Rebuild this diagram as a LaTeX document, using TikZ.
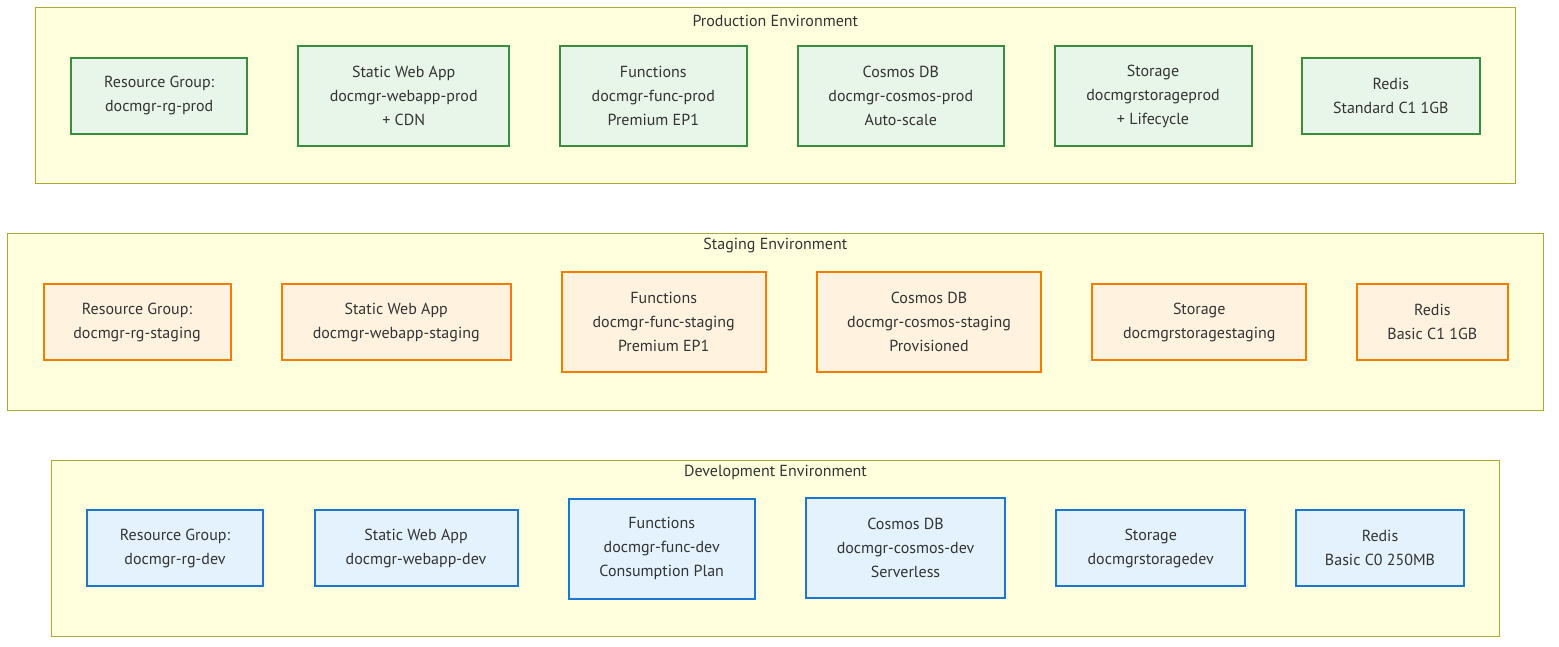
\documentclass[tikz,border=0pt]{standalone}
\usepackage{fontspec}
\setmainfont{PT Sans}
\definecolor{envfill}{HTML}{FFFFDE}
\definecolor{envline}{HTML}{AAAA33}
\definecolor{prodfill}{HTML}{E8F5E9}
\definecolor{prodline}{HTML}{388E3C}
\definecolor{stagefill}{HTML}{FFF3E0}
\definecolor{stageline}{HTML}{F57C00}
\definecolor{devfill}{HTML}{E3F2FD}
\definecolor{devline}{HTML}{1976D2}
\definecolor{labeltext}{HTML}{333333}
\begin{document}
\begin{tikzpicture}[x = 1pt, y = -1pt,
        every node/.style = {text = labeltext, font = \fontsize{16}{24}\selectfont, align = center, inner sep = 0pt},
        envbox/.style = {fill = envfill, draw = envline, line width = 1pt},
        envtitle/.style = {},
        resbox/.style = {rectangle, line width = 2pt, minimum height = #1},
        prodbox/.style = {resbox = #1, fill = prodfill, draw = prodline},
        stagebox/.style = {resbox = #1, fill = stagefill, draw = stageline},
        devbox/.style = {resbox = #1, fill = devfill, draw = devline}]
            \useasboundingbox (0,0) rectangle (1559,647);
            % production
            \draw[envbox] (35.7,7.7) rectangle (1515,183.7);
            \node[envtitle] (prodtitle) at (775.3,21) {Production Environment};
            \begin{scope}[every node/.append style = {prodbox = 100pt}]
                \node[minimum height = 76pt, minimum width = 176pt] (prodrg) at (159.2,96) {Resource Group:\\docmgr-rg-prod};
                \node[minimum width = 211pt] (prodweb) at (403.7,96) {Static Web App\\docmgr-webapp-prod\\+ CDN};
                \node[minimum width = 187pt] (prodfunc) at (653.3,96) {Functions\\docmgr-func-prod\\Premium EP1};
                \node[minimum width = 206pt] (prodcosmos) at (900.8,96) {Cosmos DB\\docmgr-cosmos-prod\\Auto-scale};
                \node[minimum width = 197pt] (prodstore) at (1153,96.5) {Storage\\docmgrstorageprod\\+ Lifecycle};
                \node[minimum height = 76pt, minimum width = 178pt] (prodredis) at (1390.8,96) {Redis\\Standard C1 1GB};
            \end{scope}
            % staging
            \draw[envbox] (7.3,234) rectangle (1543.3,410);
            \node[envtitle] (stagetitle) at (775.3,246) {Staging Environment};
            \begin{scope}[every node/.append style = {stagebox = 100pt}]
                \node[minimum height = 76pt, minimum width = 187pt] (stagerg) at (137,322) {Resource Group:\\docmgr-rg-staging};
                \node[minimum height = 76pt, minimum width = 229pt] (stageweb) at (396.2,322) {Static Web App\\docmgr-webapp-staging};
                \node[minimum width = 204pt] (stagefunc) at (663.7,322) {Functions\\docmgr-func-staging\\Premium EP1};
                \node[minimum width = 224pt] (stagecosmos) at (929,322) {Cosmos DB\\docmgr-cosmos-staging\\Provisioned};
                \node[minimum height = 76pt, minimum width = 214pt] (stagestore) at (1199.2,322) {Storage\\docmgrstoragestaging};
                \node[minimum height = 76pt, minimum width = 151pt] (stageredis) at (1432.3,322) {Redis\\Basic C1 1GB};
            \end{scope}
            % development
            \draw[envbox] (51.7,460) rectangle (1499.3,636);
            \node[envtitle] (devtitle) at (775.5,472) {Development Environment};
            \begin{scope}[every node/.append style = {devbox = 100pt}]
                \node[minimum height = 76pt, minimum width = 176pt] (devrg) at (175,548) {Resource Group:\\docmgr-rg-dev};
                \node[minimum height = 76pt, minimum width = 203pt] (devweb) at (416,548) {Static Web App\\docmgr-webapp-dev};
                \node[minimum width = 186pt] (devfunc) at (661.7,548.5) {Functions\\docmgr-func-dev\\Consumption Plan};
                \node[minimum width = 199pt] (devcosmos) at (905.5,548) {Cosmos DB\\docmgr-cosmos-dev\\Serverless};
                \node[minimum height = 76pt, minimum width = 189pt] (devstore) at (1150.7,548) {Storage\\docmgrstoragedev};
                \node[minimum height = 76pt, minimum width = 168pt] (devredis) at (1380,548) {Redis\\Basic C0 250MB};
            \end{scope}
        \end{tikzpicture}
\end{document}
